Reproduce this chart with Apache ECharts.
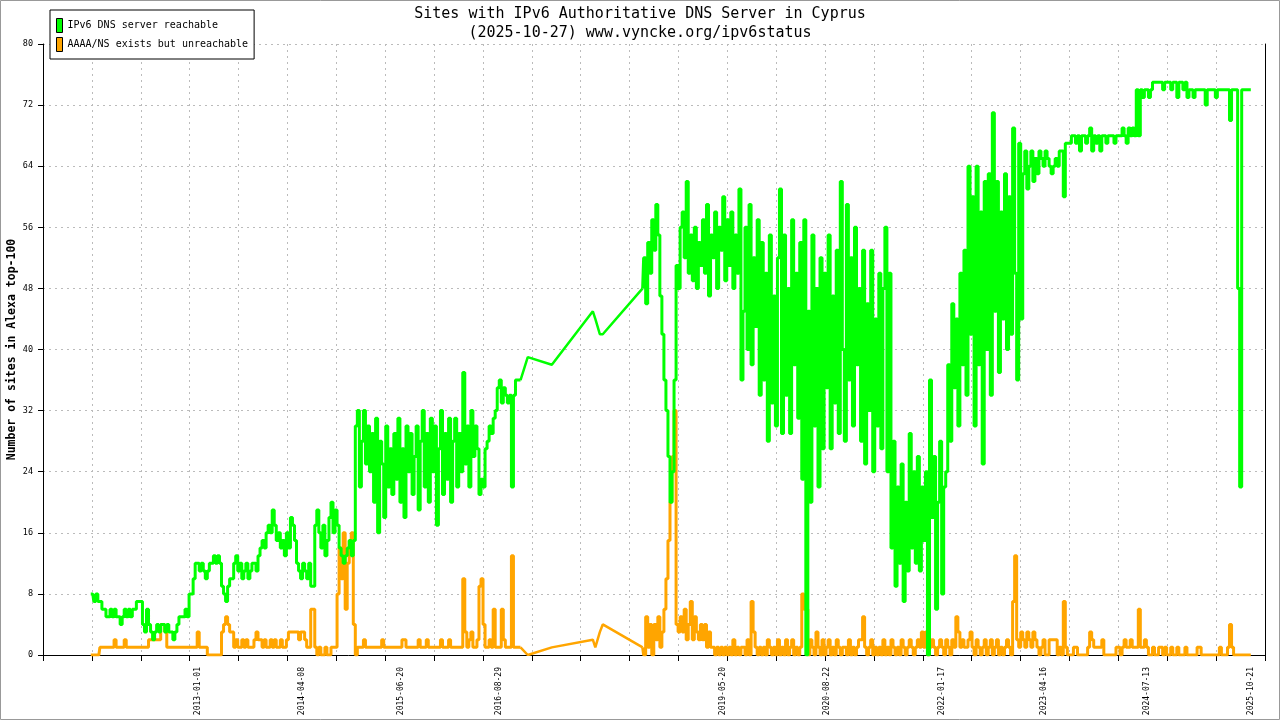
<!DOCTYPE html>
<html>
<head>
<meta charset="utf-8">
<script src="https://cdn.jsdelivr.net/npm/echarts@6/dist/echarts.min.js"></script>
<style>
html,body{margin:0;padding:0;background:#fff;}
#chart{width:1280px;height:720px;}
</style>
</head>
<body>
<div id="chart"></div>
<script>
// ---------- DATA ----------
const titleLine1 = 'Sites with IPv6 Authoritative DNS Server in Cyprus';
const titleLine2 = '(2025-10-27) www.vyncke.org/ipv6status';
const seriesNames = ['IPv6 DNS server reachable', 'AAAA/NS exists but unreachable'];
const yAxisName = 'Number of sites in Alexa top-100';

const axisStartDate = '2011-02-13';
const axisSpanDays = 5425;
const axisTickDays = 217;
const xTickLabels = ['2013-01-01','2014-04-08','2015-06-20','2016-08-29','2019-05-20','2020-08-22','2022-01-17','2023-04-16','2024-07-13','2025-10-21'];

const sampleStepDays = 9;

// first measured period (sampled every 9 days)
const seg1Start = '2011-09-13';
const reach1 = [
 8,8,7,8,7,7,6,6,5,5,
 6,5,6,5,5,4,5,6,5,6,
 5,6,6,7,7,7,4,3,6,4,
 3,2,3,4,3,4,4,3,4,3,
 3,2,3,4,5,5,5,6,5,8,
 8,10,12,12,11,12,11,10,11,12,
 12,13,12,13,12,9,8,7,9,10,
 10,12,13,11,12,10,11,12,10,11,
 12,12,11,13,14,15,14,16,17,16,
 19,17,15,16,14,15,13,16,14,18,
 17,15,12,11,10,12,11,10,12,9,
 9,17,19,16,14,17,13,15,18,20,
 16,19,17,14,13,12,13,14,15,13,
 15,30,32,22,28,32,25,30,24,29,
 20,31,16,28,25,18,30,22,27,21,
 29,23,31,20,27,18,30,24,29,21,
 26,30,19,28,32,22,29,20,31,24,
 30,17,27,32,21,29,23,31,20,28,
 31,22,29,24,37,25,30,22,32,26,
 30,27,21,23,22,27,28,30,29,31,
 32,35,36,33,35,34,33,34,22,34,
 36,36,36
];
const unreach1 = [
 0,0,0,0,0,1,1,1,1,1,
 1,1,2,1,1,1,1,2,1,1,
 1,1,1,1,1,1,1,1,1,2,
 2,2,2,2,2,4,4,3,1,1,
 1,1,1,1,1,1,1,1,1,1,
 1,1,1,3,1,1,1,1,0,0,
 0,0,0,0,0,3,4,5,4,3,
 3,1,2,1,1,2,1,2,1,1,
 1,2,3,2,2,1,2,1,1,2,
 1,2,1,1,2,1,1,2,3,3,
 3,3,3,2,3,3,2,1,1,6,
 6,1,0,1,0,0,1,0,0,1,
 1,1,8,14,10,16,6,12,15,16,
 4,0,1,1,1,2,1,1,1,1,
 1,1,1,1,2,1,1,1,1,1,
 1,1,1,1,2,2,1,1,1,1,
 1,1,2,1,1,1,2,1,1,1,
 1,1,1,2,1,1,1,2,1,1,
 1,1,1,1,10,3,1,2,3,1,
 1,2,9,10,4,1,1,2,1,6,
 1,1,1,6,2,1,1,1,13,1,
 1,1,1
];

// sparse measurements 2017
const gapDates = ['2017-01-04','2017-04-21','2017-10-20','2017-10-31','2017-11-20','2017-12-03'];
const gapReach = [39,38,45,44,42,42];
const gapUnreach = [0,1,2,1,3,4];

// second measured period (sampled every 9 days)
const seg2Start = '2018-05-29';
const reach2 = [
 48,52,46,54,50,57,53,59,55,47,
 42,36,32,26,20,24,36,51,48,56,
 58,52,62,50,55,49,56,48,54,51,
 57,50,59,47,55,52,58,48,56,53,
 60,49,57,51,58,48,55,50,61,36,
 45,56,40,59,38,52,43,57,34,54,
 36,50,28,55,33,47,30,52,61,29,
 55,34,48,29,57,38,50,31,54,23,
 57,0,45,20,55,30,48,22,52,27,
 50,35,55,27,47,33,53,29,62,40,
 28,59,36,52,30,56,38,48,28,53,
 25,46,32,53,24,44,30,50,27,48,
 56,24,50,14,28,9,22,12,25,7,
 20,11,29,14,24,12,26,11,22,15,
 24,0,36,18,26,6,20,28,8,22,
 24,38,28,46,35,44,30,50,38,53,
 34,64,42,60,30,64,38,58,25,62,
 40,63,34,71,45,62,37,58,44,63,
 40,60,42,69,50,36,67,44,63,66,
 61,64,66,62,65,63,66,65,64,66,
 65,64,63,64,65,64,66,66,60,67,
 67,67,68,68,67,68,66,68,68,67,
 68,69,66,68,67,68,66,68,68,67,
 68,68,68,67,68,68,68,69,68,67,
 69,68,69,68,74,68,74,73,74,74,
 73,74,75,75,75,75,75,74,75,75,
 75,74,75,75,73,75,75,74,75,73,
 74,74,73,74,74,74,74,74,72,74,
 74,74,74,73,74,74,74,74,74,74,
 70,74,74,74,48,22,74,74,74,74,
 74
];
const unreach2 = [
 1,0,5,1,4,0,4,2,5,1,
 3,6,10,15,20,26,32,4,3,5,
 3,6,2,4,7,2,5,3,2,4,
 2,4,1,3,1,1,0,1,0,1,
 0,1,0,1,0,2,0,1,0,1,
 1,0,2,0,7,3,1,0,1,0,
 1,0,2,1,0,1,0,2,0,1,
 0,2,0,1,2,0,1,0,1,8,
 6,6,0,2,1,0,3,1,0,2,
 0,1,2,0,1,0,2,1,0,1,
 1,0,2,0,1,0,1,2,2,5,
 1,0,1,2,0,1,0,1,0,2,
 0,1,0,2,1,0,1,0,2,1,
 0,1,2,1,0,1,2,1,3,1,
 3,0,1,2,1,0,1,2,1,0,
 2,1,0,2,1,5,3,1,2,1,
 1,2,3,1,0,2,1,0,1,2,
 0,1,2,0,1,2,0,1,0,1,
 2,1,0,7,13,2,1,3,2,1,
 3,2,1,3,2,1,0,1,2,0,
 0,2,2,2,2,0,1,0,7,1,
 0,0,0,1,1,0,0,0,0,0,
 1,3,2,1,1,1,1,2,0,0,
 0,0,0,0,1,1,0,1,2,1,
 1,2,1,1,1,6,1,1,2,1,
 0,0,1,0,0,1,1,0,1,0,
 0,1,0,0,1,0,0,0,1,0,
 0,0,0,0,1,1,0,0,0,0,
 0,0,0,0,0,1,0,0,0,1,
 4,1,0,0,0,0,0,0,0,0,
 0
];

// ---------- BUILD ----------
function dayNum(s){ return Math.round(Date.parse(s + 'T00:00:00Z') / 86400000); }
const origin = dayNum(axisStartDate);
function dayToStr(v){ return new Date((v + origin) * 86400000).toISOString().slice(0,10); }
function sampled(start, vals){
  const d0 = dayNum(start) - origin;
  return vals.map((v,i) => [d0 + i * sampleStepDays, v]);
}
function sparse(dates, vals){ return dates.map((d,i) => [dayNum(d) - origin, vals[i]]); }

const g1 = sampled(seg1Start, reach1), g2 = sampled(seg2Start, reach2);
const o1 = sampled(seg1Start, unreach1), o2 = sampled(seg2Start, unreach2);
const gGap = [g1[g1.length-1]].concat(sparse(gapDates, gapReach), [g2[0]]);
const oGap = [o1[o1.length-1]].concat(sparse(gapDates, gapUnreach), [o2[0]]);
const labelDays = xTickLabels.map(s => dayNum(s) - origin);

const MONO = 'DejaVu Sans Mono';
const GREEN = '#00ff00';
const ORANGE = '#ffa500';

function lineSeries(name, data, color, z, step, width){
  return {
    name: name, type: 'line', data: data, z: z,
    step: step, showSymbol: false, symbol: 'none',
    lineStyle: { color: color, width: width }, itemStyle: { color: color }
  };
}

const chart = echarts.init(document.getElementById('chart'));
chart.setOption({
  animation: false,
  backgroundColor: '#ffffff',
  title: {
    text: titleLine1 + '\n' + titleLine2,
    left: 'center',
    top: 0,
    textStyle: { fontFamily: MONO, fontSize: 15, fontWeight: 'normal', color: '#000', lineHeight: 19 }
  },
  legend: {
    orient: 'vertical',
    left: 50, top: 10,
    backgroundColor: '#fff',
    borderColor: '#000', borderWidth: 1, borderRadius: 0,
    padding: [8, 6, 7, 6],
    itemWidth: 6, itemHeight: 14, itemGap: 4,
    textStyle: { fontFamily: MONO, fontSize: 10, color: '#000' },
    data: [
      { name: seriesNames[0], icon: 'rect', itemStyle: { color: GREEN, borderColor: '#000', borderWidth: 1 } },
      { name: seriesNames[1], icon: 'rect', itemStyle: { color: ORANGE, borderColor: '#000', borderWidth: 1 } }
    ]
  },
  grid: { left: 43, right: 15, top: 44, bottom: 65, containLabel: false, outerBoundsMode: 'none' },
  xAxis: {
    type: 'value',
    min: 0, max: axisSpanDays, interval: axisTickDays,
    axisLine: { show: true, onZero: false, lineStyle: { color: '#000', width: 1 } },
    axisTick: { show: true, length: 6, lineStyle: { color: '#000' } },
    axisLabel: {
      customValues: labelDays,
      rotate: 90,
      margin: 12,
      fontFamily: MONO, fontSize: 8, color: '#000',
      formatter: v => dayToStr(v)
    },
    splitLine: { show: true, lineStyle: { color: '#bbbbbb', type: [2, 4], width: 1 } }
  },
  yAxis: [{
    type: 'value',
    min: 0, max: 80, interval: 8,
    name: yAxisName,
    nameLocation: 'middle',
    nameRotate: 90,
    nameGap: 25,
    nameMoveOverlap: false,
    nameTextStyle: { fontFamily: MONO, fontSize: 11.5, fontWeight: 'bold', color: '#000' },
    axisLine: { show: true, lineStyle: { color: '#000', width: 1 } },
    axisTick: { show: true, length: 5, lineStyle: { color: '#000' } },
    axisLabel: { margin: 10, fontFamily: MONO, fontSize: 8.5, color: '#000' },
    splitLine: { show: true, lineStyle: { color: '#bbbbbb', type: [2, 4], width: 1 } }
  }, {
    type: 'value', position: 'right',
    min: 0, max: 80, interval: 8,
    axisLine: { show: true, lineStyle: { color: '#000', width: 1 } },
    axisTick: { show: false }, axisLabel: { show: false }, splitLine: { show: false }
  }],
  series: [
    lineSeries(seriesNames[1], o1, ORANGE, 2, 'middle', 3),
    lineSeries(seriesNames[1], oGap, ORANGE, 2, false, 2.5),
    lineSeries(seriesNames[1], o2, ORANGE, 2, 'middle', 3),
    lineSeries(seriesNames[0], g1, GREEN, 3, 'middle', 3),
    lineSeries(seriesNames[0], gGap, GREEN, 3, false, 2.5),
    lineSeries(seriesNames[0], g2, GREEN, 3, 'middle', 3)
  ],
  graphic: [{
    type: 'rect', silent: true, z: 100,
    shape: { x: 0.5, y: 0.5, width: 1279, height: 719 },
    style: { fill: 'none', stroke: '#999', lineWidth: 1 }
  }]
});
</script>
</body>
</html>
